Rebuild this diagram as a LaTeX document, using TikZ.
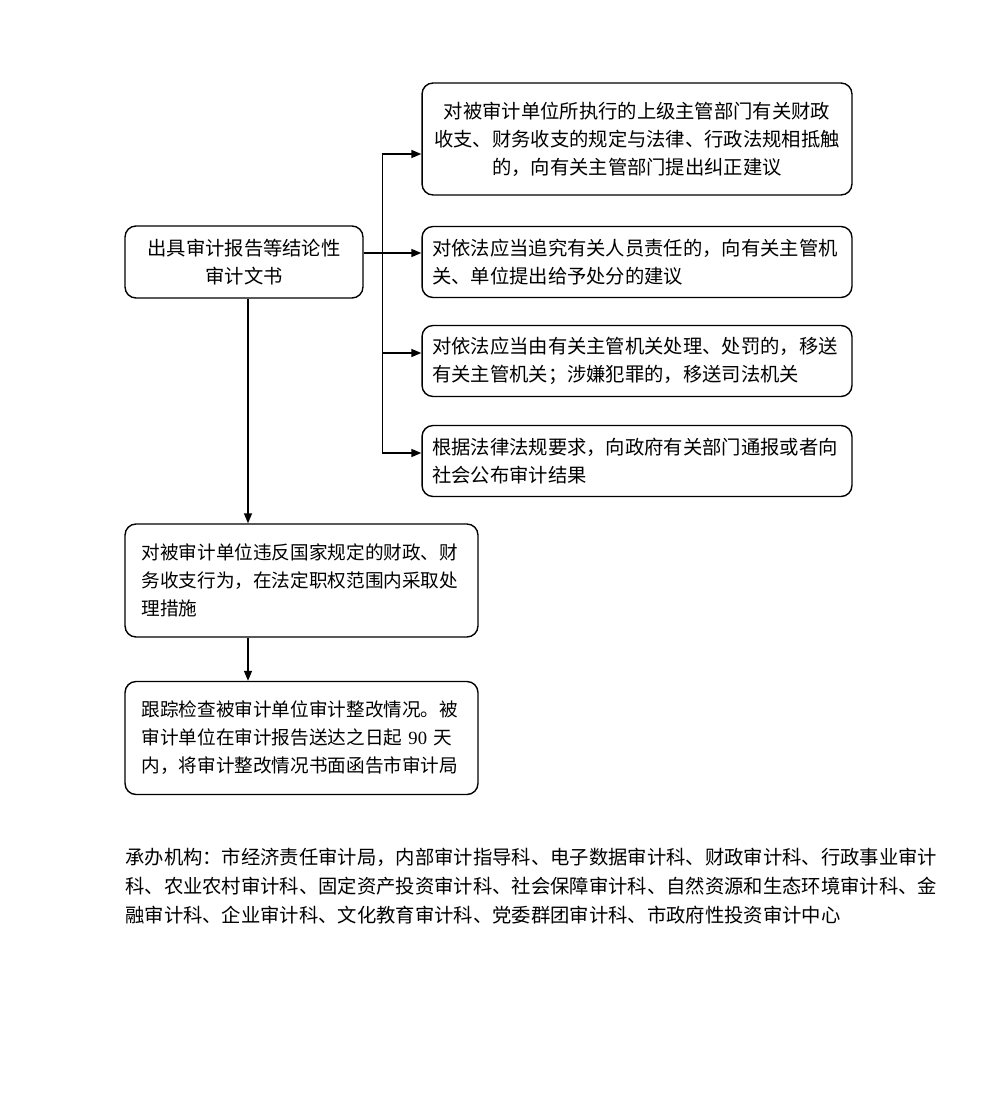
\documentclass[tikz,border=0pt]{standalone}
\usepackage{fontspec}
\setmainfont{Noto Sans CJK SC}
\newfontfamily\numfont{Liberation Serif}
\usetikzlibrary{arrows.meta}
\begin{document}
\begin{tikzpicture}[x=0.02cm,y=-0.02cm,
  box/.style={draw,rounded corners=0.22cm,line width=0.8pt,inner sep=0pt,font=\fontsize{11}{15.9}\selectfont},
  smallbox/.style={box,font=\fontsize{10.6}{15.9}\selectfont,minimum width=7.06cm,minimum height=2.26cm,text width=6.4cm,align=left},
  arr/.style={-{Triangle[length=0.2cm,width=0.16cm]},line width=0.8pt}]
\useasboundingbox (0,0) rectangle (980,1118);
%\draw[help lines,step=50] (0,0) grid (980,1118);
\node[box,minimum width=4.76cm,minimum height=1.44cm,align=center] (A) at (244,262) {出具审计报告等结论性\\审计文书};
\node[box,minimum width=8.6cm,minimum height=2.24cm,text width=8.6cm,align=center] (R1) at (637,139)
  {对被审计单位所执行的上级主管部门有关财政\\收支、财务收支的规定与法律、行政法规相抵触\\的，向有关主管部门提出纠正建议};
\node[box,minimum width=8.6cm,minimum height=1.42cm,text width=8.2cm,align=left] (R2) at (637,262)
  {对依法应当追究有关人员责任的，向有关主管机\\关、单位提出给予处分的建议};
\node[box,minimum width=8.6cm,minimum height=1.42cm,text width=8.2cm,align=left] (R3) at (637,361)
  {对依法应当由有关主管机关处理、处罚的，移送\\有关主管机关；涉嫌犯罪的，移送司法机关};
\node[box,minimum width=8.6cm,minimum height=1.42cm,text width=8.2cm,align=left] (R4) at (637,461)
  {根据法律法规要求，向政府有关部门通报或者向\\社会公布审计结果};
\node[smallbox] (B) at (301.5,580.5)
  {对被审计单位违反国家规定的财政、财\\务收支行为，在法定职权范围内采取处\\理措施};
\node[smallbox] (C) at (301.5,738)
  {跟踪检查被审计单位审计整改情况。被\\审计单位在审计报告送达之日起 {\numfont 90} 天\\内，将审计整改情况书面函告市审计局};
\node[anchor=north west,inner sep=0pt,align=left,font=\fontsize{11}{16.3}\selectfont] (note) at (125,848)
  {承办机构：市经济责任审计局，内部审计指导科、电子数据审计科、财政审计科、行政事业审计\\
   科、农业农村审计科、固定资产投资审计科、社会保障审计科、自然资源和生态环境审计科、金\\
   融审计科、企业审计科、文化教育审计科、党委群团审计科、市政府性投资审计中心};
% branches
\draw[arr] ([yshift=0.18cm]A.east) -- ([yshift=0.18cm]R2.west);
\draw[arr] ([yshift=-0.3cm]R1.west) ++(-39,0) coordinate (t1) -- ([yshift=-0.3cm]R1.west);
\draw[arr] ([yshift=0.16cm]R3.west) ++(-39,0) -- ([yshift=0.16cm]R3.west);
\draw[arr] ([yshift=0.16cm]R4.west) ++(-39,0) coordinate (t4) -- ([yshift=0.16cm]R4.west);
\draw[line width=0.8pt] (t1) -- (t4);
% main line
\draw[arr] ([xshift=0.08cm]A.south) -- ([xshift=0.08cm]A.south |- B.north);
\draw[arr] ([xshift=0.08cm]A.south |- B.south) -- ([xshift=0.08cm]A.south |- C.north);
\end{tikzpicture}
\end{document}
